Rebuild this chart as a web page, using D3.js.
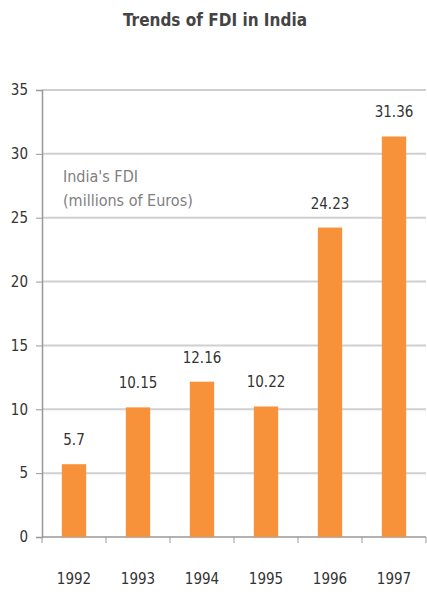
<!DOCTYPE html>
<html>
<head>
<meta charset="utf-8">
<script src="https://cdn.jsdelivr.net/npm/d3@7"></script>
<style>
body { margin: 0; background: #fff; }
text { font-family: "DejaVu Sans Condensed", "Liberation Sans Narrow", sans-serif; }
</style>
</head>
<body>
<svg id="chart" width="427" height="592"></svg>
<script>
var years = ["1992", "1993", "1994", "1995", "1996", "1997"];
var fdi = [5.7, 10.15, 12.16, 10.22, 24.23, 31.36];
var labels = ["5.7", "10.15", "12.16", "10.22", "24.23", "31.36"];
var yTicks = [0, 5, 10, 15, 20, 25, 30, 35];

var svg = d3.select("#chart");
var margin = {left: 42, right: 1, top: 90, bottom: 55};
var width = 427 - margin.left - margin.right;
var height = 592 - margin.top - margin.bottom;

var x = d3.scaleBand().domain(years).range([0, width]).paddingInner(0.62).paddingOuter(0.31);
var y = d3.scaleLinear().domain([0, 35]).range([height, 0]);

svg.append("text")
    .attr("x", 215).attr("y", 26)
    .attr("text-anchor", "middle")
    .attr("font-size", 17).attr("font-weight", "bold")
    .attr("fill", "#444")
    .text("Trends of FDI in India");

var g = svg.append("g").attr("transform", "translate(" + margin.left + "," + margin.top + ")");

// gridlines
g.selectAll(".grid").data(yTicks.slice(1))
    .enter().append("line")
    .attr("x1", 0).attr("x2", width)
    .attr("y1", function(d) { return y(d); })
    .attr("y2", function(d) { return y(d); })
    .attr("stroke", "#d0d0d0").attr("stroke-width", 2);

var yAxis = g.append("g")
    .call(d3.axisLeft(y).tickValues(yTicks).tickSize(6).tickPadding(8));
yAxis.select(".domain").attr("stroke", "#999").attr("stroke-width", 1.5);
yAxis.selectAll(".tick line").attr("stroke", "#999");
yAxis.selectAll("text").attr("font-size", 15).attr("fill", "#333")
    .style("font-family", "'DejaVu Sans Condensed', sans-serif");

// category ticks between bands
var xAxis = g.append("g").attr("transform", "translate(0," + height + ")");
xAxis.append("line").attr("x1", 0).attr("x2", width).attr("stroke", "#999").attr("stroke-width", 1.5);
xAxis.selectAll(".sep").data(years.concat(["end"]))
    .enter().append("line")
    .attr("x1", function(d, i) { return i * width / years.length; })
    .attr("x2", function(d, i) { return i * width / years.length; })
    .attr("y1", 0).attr("y2", 6)
    .attr("stroke", "#999");
xAxis.selectAll(".yr").data(years)
    .enter().append("text")
    .attr("x", function(d) { return x(d) + x.bandwidth() / 2; })
    .attr("y", 47)
    .attr("text-anchor", "middle")
    .attr("font-size", 15).attr("fill", "#333")
    .text(function(d) { return d; });

g.selectAll(".bar").data(fdi)
    .enter().append("rect")
    .attr("x", function(d, i) { return x(years[i]); })
    .attr("y", function(d) { return y(d); })
    .attr("width", x.bandwidth())
    .attr("height", function(d) { return height - y(d); })
    .attr("fill", "#f7923a");

g.selectAll(".val").data(fdi)
    .enter().append("text")
    .attr("x", function(d, i) { return x(years[i]) + x.bandwidth() / 2; })
    .attr("y", function(d) { return y(d) - 19; })
    .attr("text-anchor", "middle")
    .attr("font-size", 15).attr("fill", "#333")
    .text(function(d, i) { return labels[i]; });

var legend = g.append("text").attr("fill", "#808080").attr("font-size", 16);
legend.append("tspan").attr("x", 21).attr("y", y(27.8)).text("India's FDI");
legend.append("tspan").attr("x", 21).attr("y", y(25.9)).text("(millions of Euros)");
</script>
</body>
</html>
